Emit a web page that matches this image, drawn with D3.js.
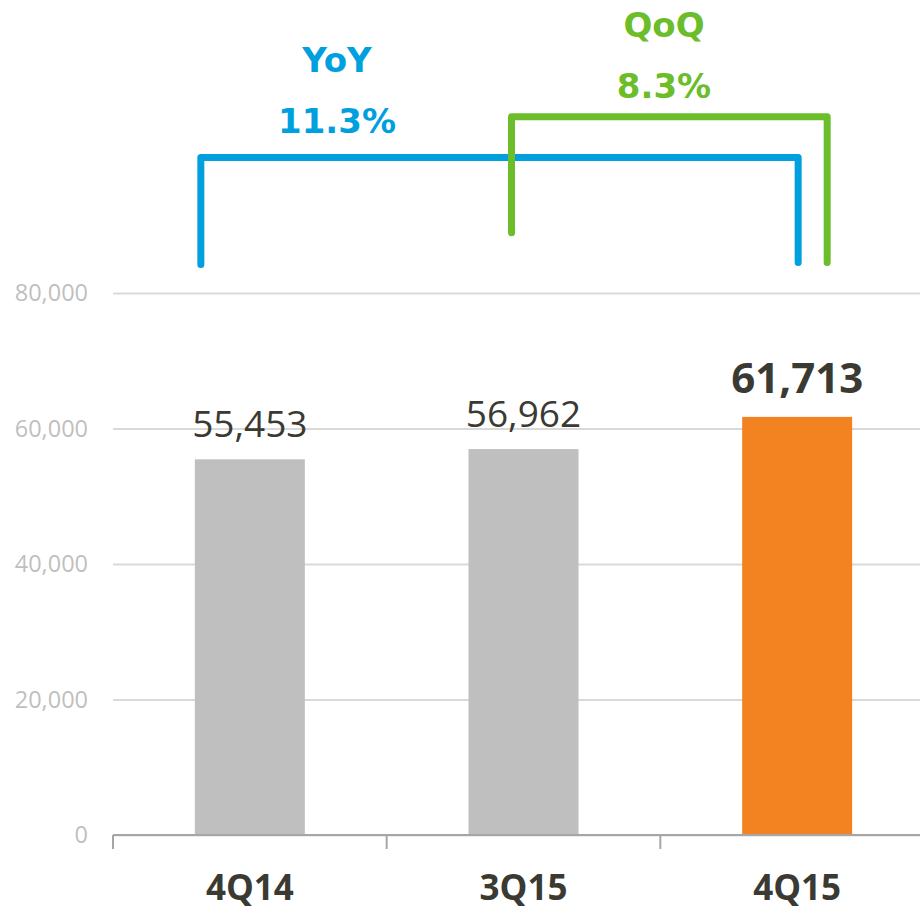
<!DOCTYPE html>
<html>
<head>
<meta charset="utf-8">
<script src="https://cdn.jsdelivr.net/npm/d3@7"></script>
<style>
  html, body { margin: 0; padding: 0; background: #fff; }
  svg { display: block; }
</style>
</head>
<body>
<div class="chart"></div>
<script>
const quarters = ["4Q14", "3Q15", "4Q15"]
const revenue = [55453, 56962, 61713]
const barColors = ["#bfbfbf", "#bfbfbf", "#f28320"]
const yTicks = [0, 20000, 40000, 60000, 80000]

// growth brackets: from/to category, level of the top line and feet (in data units)
const growthLabels = ["YoY", "QoQ"]
const growthValues = ["11.3%", "8.3%"]
const growthFrom = ["4Q14", "3Q15"]
const growthTo = ["4Q15", "4Q15"]
const growthTop = [100000, 106000]
const growthFootFrom = [84200, 88900]
const growthFootTo = [84500, 84500]

const width = 920
const height = 911
const margin = { top: 293, right: -14, bottom: 76, left: 113 }
const graphHeight = height - margin.top - margin.bottom
const graphWidth = width - margin.left - margin.right

d3.select(".chart > *").remove()

const svg = d3.select(".chart").append("svg")
  .attr("width", width)
  .attr("height", height)
  .attr("viewBox", `0 0 ${width} ${height}`)

const graph = svg.append("g")
  .attr("transform", `translate(${margin.left}, ${margin.top})`)

const xScale = d3.scaleBand()
  .range([0, graphWidth])
  .domain(quarters)
  .paddingInner(0.598)
  .paddingOuter(0.299)

const yScale = d3.scaleLinear()
  .range([graphHeight, 0])
  .domain([0, 80000])

// gridlines + tick labels
const yAxis = d3.axisLeft(yScale)
  .tickValues(yTicks)
  .tickSize(-(width - margin.left))
  .tickPadding(25)
  .tickFormat(d3.format(","))

const yAxisGroup = graph.append("g").call(yAxis)
yAxisGroup.select(".domain").remove()
yAxisGroup.selectAll(".tick line").attr("stroke", "#d9d9d9").attr("stroke-width", 2)
yAxisGroup.selectAll(".tick text")
  .attr("fill", "#bfbfbf")
  .style("font-family", "'Open Sans', sans-serif")
  .style("font-size", "23.5px")

// bars
graph.selectAll(".bar")
  .data(quarters)
  .enter().append("rect")
  .attr("class", "bar")
  .attr("x", d => xScale(d))
  .attr("width", xScale.bandwidth())
  .attr("y", (d, i) => yScale(revenue[i]))
  .attr("height", (d, i) => graphHeight - yScale(revenue[i]))
  .attr("fill", (d, i) => barColors[i])

// value labels
graph.selectAll(".value")
  .data(quarters)
  .enter().append("text")
  .attr("class", "value")
  .attr("x", d => xScale(d) + xScale.bandwidth() / 2)
  .attr("y", (d, i) => yScale(revenue[i]) - (i === 2 ? 24 : 22))
  .attr("text-anchor", "middle")
  .attr("fill", "#3a3a33")
  .style("font-family", "'Open Sans', sans-serif")
  .style("font-size", (d, i) => i === 2 ? "42px" : "37px")
  .style("font-weight", (d, i) => i === 2 ? "bold" : "normal")
  .text((d, i) => d3.format(",")(revenue[i]))

// bottom axis: line + ticks at band boundaries
const step = xScale.step()
const xAxisGroup = graph.append("g").attr("transform", `translate(0, ${graphHeight})`)
xAxisGroup.append("line")
  .attr("x1", 0).attr("x2", graphWidth)
  .attr("y1", 0).attr("y2", 0)
  .attr("stroke", "#a6a6a6").attr("stroke-width", 2)
xAxisGroup.selectAll(".xtick")
  .data(d3.range(quarters.length + 1))
  .enter().append("line")
  .attr("class", "xtick")
  .attr("x1", i => i * step).attr("x2", i => i * step)
  .attr("y1", 0).attr("y2", 14)
  .attr("stroke", "#a6a6a6").attr("stroke-width", 2)

xAxisGroup.selectAll(".xlabel")
  .data(quarters)
  .enter().append("text")
  .attr("class", "xlabel")
  .attr("x", d => xScale(d) + xScale.bandwidth() / 2)
  .attr("y", 65)
  .attr("text-anchor", "middle")
  .attr("fill", "#3a3a33")
  .style("font-family", "'Open Sans', sans-serif")
  .style("font-size", "35px")
  .style("font-weight", "bold")
  .text(d => d)

// growth brackets
const bracketColors = ["#00a0df", "#6bbd2a"]
const footOffsetFrom = [-49, -12]     // from bar centre
const footOffsetTo = [1, 30]
const labelX = [337, 664]
const labelY = [72, 37]

growthLabels.forEach((label, i) => {
  const cx0 = xScale(growthFrom[i]) + xScale.bandwidth() / 2 + footOffsetFrom[i]
  const cx1 = xScale(growthTo[i]) + xScale.bandwidth() / 2 + footOffsetTo[i]
  const path = d3.path()
  path.moveTo(cx0, yScale(growthFootFrom[i]))
  path.lineTo(cx0, yScale(growthTop[i]))
  path.lineTo(cx1, yScale(growthTop[i]))
  path.lineTo(cx1, yScale(growthFootTo[i]))
  graph.append("path")
    .attr("d", path.toString())
    .attr("fill", "none")
    .attr("stroke", bracketColors[i])
    .attr("stroke-width", 7)
    .attr("stroke-linejoin", "round")
    .attr("stroke-linecap", "round")

  const t = svg.append("text")
    .attr("x", labelX[i])
    .attr("text-anchor", "middle")
    .attr("fill", bracketColors[i])
    .style("font-family", "'DejaVu Sans', sans-serif")
    .style("font-weight", "bold")
    .style("font-size", "34px")
  t.append("tspan").attr("x", labelX[i]).attr("y", labelY[i]).text(label)
  t.append("tspan").attr("x", labelX[i]).attr("y", labelY[i] + 61).text(growthValues[i])
})
</script>
</body>
</html>
